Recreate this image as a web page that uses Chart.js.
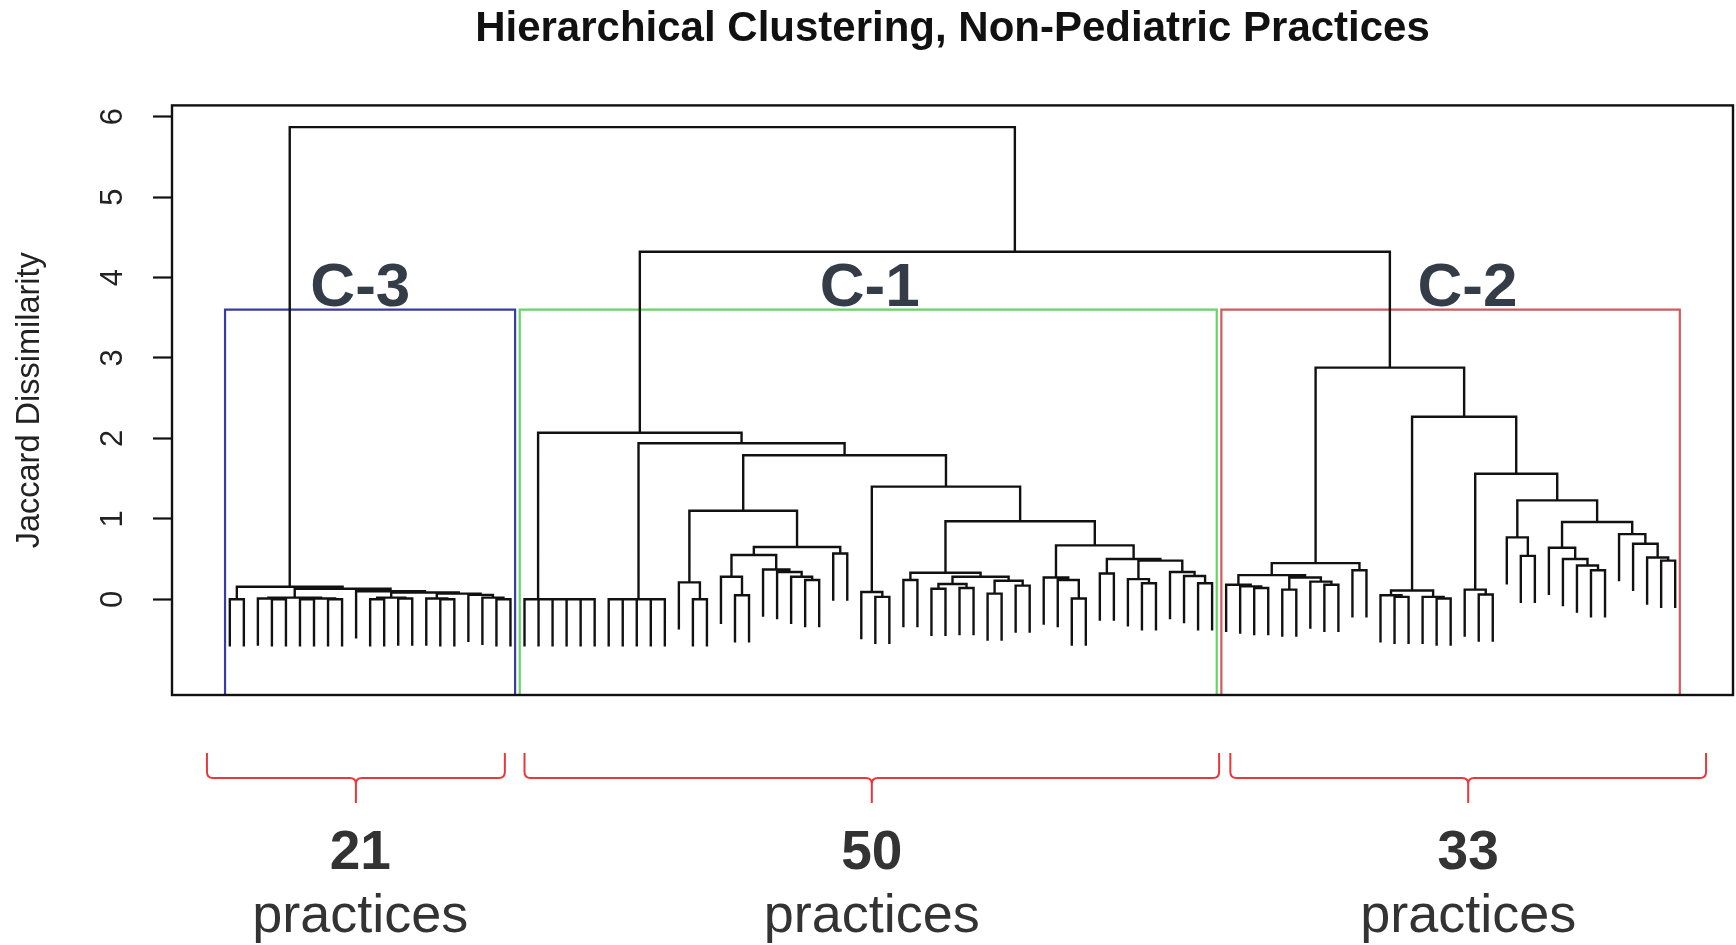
<!DOCTYPE html>
<html>
<head>
<meta charset="utf-8">
<title>Hierarchical Clustering, Non-Pediatric Practices</title>
<script src="https://cdn.jsdelivr.net/npm/chart.js@4.4.1/dist/chart.umd.min.js"></script>
<style>
  html, body { margin: 0; padding: 0; background: #fff; }
  #wrap { width: 1736px; height: 945px; }
</style>
</head>
<body>
<div id="wrap"><canvas id="dendro" width="1736" height="945"></canvas></div>
<script>
// a leaf (one practice)
const _ = 'leaf';

// merge trees, node = [height, left, right]
const c3Tree = [0.155, [0, _, _],
  [0.13, [0.02, [0.01, _, [0, _, _]], [0.01, [0, _, _], [0, _, _]]],
    [0.10, _,
      [0.085, [0.02, [0, _, _], [0.01, _, _]],
        [0.07, [0.01, _, [0, _, _]],
          [0.055, _, [0.02, _, [0, _, _]]]]]]]];

const c1Tree = [2.07, [0, _, [0, _, [0, _, [0, _, [0, _, _]]]]],
  [1.94, [0, [0, _, [0, _, _]], [0, _, _]],
    [1.79,
      [1.10, [0.21, _, [0, _, _]],
        [0.65, [0.55, [0.28, _, [0.05, _, _]], [0.37, _, [0.34, _, [0.28, _, [0.24, _, _]]]]],
          [0.57, _, _]]],
      [1.40, [0.09, _, [0.03, _, _]],
        [0.97,
          [0.33, [0.24, _, _], [0.28, [0.19, [0.13, _, _], [0.14, _, _]], [0.23, [0.07, _, _], [0.17, _, _]]]],
          [0.67, [0.27, _, [0.24, _, [0.01, _, _]]],
            [0.50, [0.32, _, _],
              [0.48, [0.25, _, [0.20, _, _]], [0.34, _, [0.29, _, [0.20, _, _]]]]]]]]]]];

const c2Tree = [2.88,
  [0.45, [0.30, [0.18, _, [0.16, _, [0.14, _, _]]], [0.27, [0.12, _, _], [0.22, _, [0.18, _, _]]]],
    [0.36, _, _]],
  [2.27, [0.11, [0.05, _, [0.03, _, _]], [0.03, _, [0.01, _, _]]],
    [1.56, [0.12, _, [0.06, _, _]],
      [1.23, [0.77, _, [0.54, _, _]],
        [0.96, [0.64, _, [0.50, _, [0.42, _, [0.36, _, _]]]],
          [0.81, _, [0.69, _, [0.52, _, [0.48, _, _]]]]]]]]];

const topHeights = [5.87, 4.32];   // C-3 joins the rest, C-1 joins C-2

const clusterNames = ['C-3', 'C-1', 'C-2'];
const clusterSizes = [21, 50, 33];
const clusterColors = ['#3a3aa6', '#66d466', '#cf5a60'];
const yTicks = [0, 1, 2, 3, 4, 5, 6];

// where the hand-drawn notes sit, in leaf units
const clusterLabelX = [10.3, 46.6, 89.2];
const braceSpans = [[-0.63, 20.6], [22.0, 71.5], [72.3, 106.2]];
const countX = [10.3, 46.75, 89.25];

const fullTree = [topHeights[0], c3Tree, [topHeights[1], c1Tree, c2Tree]];
const hang = 0.1 * topHeights[0];

// walk the tree: leaves get 1..n from left to right
let leafNo = 0;
const treeSegs = [];
const mergeHeights = [];
function walk(node) {
  if (node === _) { leafNo++; return { x: leafNo, h: null }; }
  const h = node[0];
  const a = walk(node[1]);
  const b = walk(node[2]);
  mergeHeights.push(h);
  const ya = a.h === null ? h - hang : a.h;
  const yb = b.h === null ? h - hang : b.h;
  treeSegs.push({x: a.x, y: ya}, {x: a.x, y: h}, {x: b.x, y: h}, {x: b.x, y: yb}, {x: null, y: null});
  return { x: (a.x + b.x) / 2, h: h };
}
walk(fullTree);
const nLeaves = leafNo;

const xMin = 1 - 0.04 * (nLeaves - 1);
const xMax = nLeaves + 0.04 * (nLeaves - 1);
const yMin = -1.19, yMax = 6.14;

// rect.hclust style boxes, k = 3
const sortedH = mergeHeights.slice().sort((p, q) => q - p);
const boxTop = (sortedH[1] + sortedH[2]) / 2;
let cum = 0;
const boxDatasets = clusterSizes.map((n, i) => {
  const x0 = cum + 0.66, x1 = cum + n + 0.33;
  cum += n;
  return {
    data: [{x: x0, y: yMin}, {x: x0, y: boxTop}, {x: x1, y: boxTop}, {x: x1, y: yMin}],
    showLine: true, borderColor: clusterColors[i], borderWidth: 2.2,
    pointRadius: 0, fill: false, clip: false
  };
});

Chart.defaults.font.family = "'Liberation Sans', Arial, sans-serif";

const notes = {
  id: 'notes',
  afterDraw(chart) {
    const {ctx, chartArea: ca} = chart;
    const xs = chart.scales.x, ys = chart.scales.y;
    ctx.save();
    ctx.strokeStyle = '#111';
    ctx.lineWidth = 2.4;
    ctx.strokeRect(ca.left, ca.top, ca.right - ca.left, ca.bottom - ca.top);

    ctx.fillStyle = '#343c48';
    ctx.font = "bold 62px 'Liberation Sans', Arial, sans-serif";
    ctx.textAlign = 'center';
    ctx.textBaseline = 'alphabetic';
    clusterNames.forEach((t, i) => {
      ctx.fillText(t, xs.getPixelForValue(clusterLabelX[i]), ys.getPixelForValue(boxTop) - 4);
    });

    const yTop = ca.bottom + 58, yMid = ca.bottom + 83, yTip = ca.bottom + 108, r = 6;
    braceSpans.forEach((s, i) => {
      const x0 = xs.getPixelForValue(s[0]), x1 = xs.getPixelForValue(s[1]);
      const xc = (x0 + x1) / 2;
      ctx.strokeStyle = '#e8393a';
      ctx.lineWidth = 2;
      ctx.beginPath();
      ctx.moveTo(x0, yTop);
      ctx.lineTo(x0, yMid - r);
      ctx.quadraticCurveTo(x0, yMid, x0 + r, yMid);
      ctx.lineTo(xc - r, yMid);
      ctx.quadraticCurveTo(xc, yMid, xc, yMid + r);
      ctx.lineTo(xc, yTip);
      ctx.moveTo(xc, yMid + r);
      ctx.quadraticCurveTo(xc, yMid, xc + r, yMid);
      ctx.lineTo(x1 - r, yMid);
      ctx.quadraticCurveTo(x1, yMid, x1, yMid - r);
      ctx.lineTo(x1, yTop);
      ctx.stroke();

      const tx = xs.getPixelForValue(countX[i]);
      ctx.fillStyle = '#333';
      ctx.font = "bold 55px 'Liberation Sans', Arial, sans-serif";
      ctx.fillText(String(clusterSizes[i]), tx, ca.bottom + 174);
      ctx.font = "54px 'Liberation Sans', Arial, sans-serif";
      ctx.fillText('practices', tx, ca.bottom + 237);
    });
    ctx.restore();
  }
};

new Chart(document.getElementById('dendro'), {
  type: 'scatter',
  data: {
    datasets: [{
      data: treeSegs, showLine: true, spanGaps: false,
      borderColor: '#111', borderWidth: 2.4, pointRadius: 0, clip: false
    }].concat(boxDatasets)
  },
  options: {
    responsive: false,
    animation: false,
    devicePixelRatio: 1,
    layout: { padding: { top: 0, right: 3, bottom: 250, left: 0 } },
    plugins: {
      legend: { display: false },
      tooltip: { enabled: false },
      title: {
        display: true, fullSize: false,
        text: 'Hierarchical Clustering, Non-Pediatric Practices',
        color: '#111',
        font: { size: 42, weight: 'bold' },
        padding: { top: 4, bottom: 51 }
      }
    },
    scales: {
      x: { type: 'linear', min: xMin, max: xMax, display: false },
      y: {
        type: 'linear', min: yMin, max: yMax,
        afterBuildTicks: s => { s.ticks = yTicks.map(v => ({ value: v })); },
        afterFit: s => { s.width = 172; },
        border: { display: false },
        grid: { drawOnChartArea: false, drawTicks: true, tickLength: 19, tickWidth: 2.2, tickColor: '#111' },
        ticks: {
          minRotation: 90, maxRotation: 90, crossAlign: 'center', padding: 31,
          color: '#222', font: { size: 31 },
          callback: v => String(v)
        },
        title: {
          display: true, text: 'Jaccard Dissimilarity', color: '#222',
          font: { size: 32.5 }, padding: { top: 11, bottom: 0 }
        }
      }
    }
  },
  plugins: [notes]
});
</script>
</body>
</html>
